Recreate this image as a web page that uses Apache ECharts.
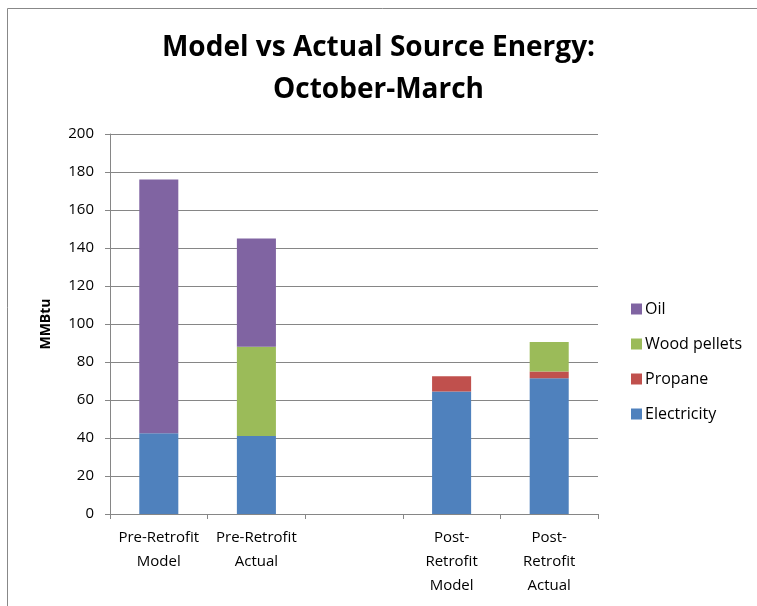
<!DOCTYPE html>
<html>
<head>
<meta charset="utf-8">
<script src="https://cdn.jsdelivr.net/npm/echarts@6/dist/echarts.min.js"></script>
<style>
    body { margin: 0; background: #fff; }
    #main { width: 757px; height: 606px; }
</style>
</head>
<body>
<div id="main"></div>
<script>
let log = console.log.bind(console)

// 数据
let categories = ['Pre-Retrofit\nModel', 'Pre-Retrofit\nActual', '', 'Post-\nRetrofit\nModel', 'Post-\nRetrofit\nActual']
let electricity = [42.5, 41, null, 64.5, 71.5]
let propane = [0, 0, null, 8, 3.5]
let woodPellets = [0, 47, null, 0, 15.5]
let oil = [133.5, 57, null, 0, 0]
let yTicks = [0, 20, 40, 60, 80, 100, 120, 140, 160, 180, 200]

let font = 'Open Sans'

let makeSeries = function(name, data, color) {
    return {
        name: name,
        type: 'bar',
        stack: 'total',
        data: data,
        barWidth: '40%',
        itemStyle: {
            color: color,
        },
    }
}

let huatu = function() {
    let myChart = echarts.init(document.getElementById('main'))
    let option = {
        animation: false,
        textStyle: {
            fontFamily: font,
        },
        title: {
            text: 'Model vs Actual Source Energy:\nOctober-March',
            left: 'center',
            top: 22,
            textStyle: {
                fontFamily: font,
                fontSize: 28,
                fontWeight: 'bold',
                color: '#000',
                lineHeight: 42,
            },
        },
        legend: {
            orient: 'vertical',
            left: 626,
            top: 295,
            itemGap: 17,
            itemWidth: 11,
            itemHeight: 11,
            icon: 'rect',
            data: ['Oil', 'Wood pellets', 'Propane', 'Electricity'],
            textStyle: {
                fontSize: 16,
                lineHeight: 18,
                color: '#000',
                padding: [0, 0, 0, -2],
            },
        },
        grid: {
            left: 110,
            right: 159,
            top: 134,
            bottom: 92,
        },
        xAxis: {
            type: 'category',
            data: categories,
            axisLine: {
                lineStyle: { color: '#868686' },
            },
            axisTick: {
                show: true,
                length: 5,
                lineStyle: { color: '#868686' },
            },
            axisLabel: {
                interval: 0,
                color: '#000',
                fontSize: 15,
                lineHeight: 24,
                margin: 12,
            },
        },
        yAxis: {
            type: 'value',
            min: yTicks[0],
            max: yTicks[yTicks.length - 1],
            interval: 20,
            name: 'MMBtu',
            nameLocation: 'middle',
            nameGap: 57,
            nameTextStyle: {
                fontWeight: 'bold',
                fontSize: 14,
                color: '#000',
            },
            axisLine: {
                show: true,
                lineStyle: { color: '#868686' },
            },
            axisTick: {
                show: true,
                length: 5,
                lineStyle: { color: '#868686' },
            },
            axisLabel: {
                color: '#000',
                fontSize: 15,
                margin: 16,
            },
            splitLine: {
                lineStyle: { color: '#868686' },
            },
        },
        graphic: [{
            type: 'rect',
            shape: { x: 7.5, y: 8.5, width: 760, height: 610 },
            style: { fill: null, stroke: '#888', lineWidth: 1 },
        }],
        series: [
            makeSeries('Electricity', electricity, '#4F81BD'),
            makeSeries('Propane', propane, '#C0504D'),
            makeSeries('Wood pellets', woodPellets, '#9BBB59'),
            makeSeries('Oil', oil, '#8064A2'),
        ],
    }
    myChart.setOption(option)
}
huatu()
</script>
</body>
</html>
